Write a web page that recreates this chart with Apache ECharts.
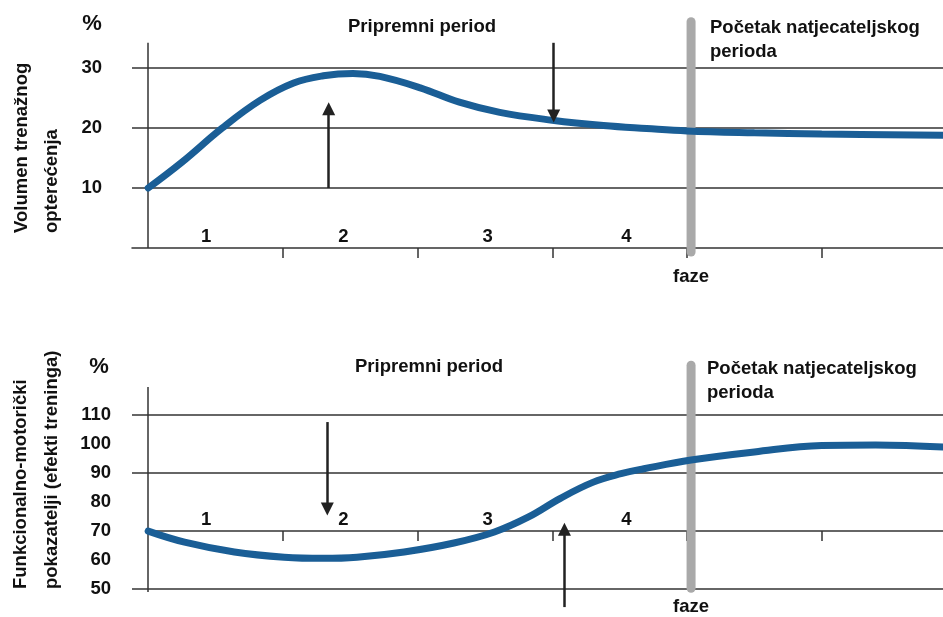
<!DOCTYPE html>
<html>
<head>
<meta charset="utf-8">
<title>Pripremni period</title>
<script src="https://cdn.jsdelivr.net/npm/echarts@6/dist/echarts.min.js"></script>
<style>
html,body{margin:0;padding:0;background:#fff;}
#main{width:943px;height:617px;}
</style>
</head>
<body>
<div id="main"></div>
<script>
// phase axis (one unit = one phase)
var xMin = -0.12, xMax = 5.9;
var xTicks = [1, 2, 3, 4, 5];
var phaseNames = ['1', '2', '3', '4'];
var phasePos = [0.43, 1.45, 2.52, 3.55];
var competitionX = 4.03;

// gornji graf - volumen trenažnog opterećenja
var volumeX = [0, 0.25, 0.55, 0.83, 1.08, 1.3, 1.52, 1.72, 2.02, 2.31, 2.61, 3.0, 3.38, 3.7, 4.0, 4.5, 5.0, 5.9];
var volumeY = [10, 14.3, 20, 24.6, 27.5, 28.7, 29.1, 28.6, 26.7, 24.3, 22.6, 21.3, 20.4, 19.9, 19.5, 19.2, 19.0, 18.8];
var volumeTicks = [10, 20, 30];
var volumeLines = [10, 20, 30];
var volumeMin = -1.5, volumeMax = 38;
var volumeAxisTop = 34.2;
var volumeBar = [-0.67, 37.7];
// [x, from, to]
var volumeArrows = [[1.34, 10, 23.2], [3.01, 34.2, 22.0]];

// donji graf - funkcionalno-motorički pokazatelji
var effectX = [0, 0.27, 0.64, 1.01, 1.3, 1.55, 1.9, 2.27, 2.57, 2.82, 3.06, 3.3, 3.51, 3.68, 4.03, 4.5, 5.0, 5.4, 5.9];
var effectY = [70, 66.2, 62.8, 61.0, 60.6, 61.0, 62.8, 65.9, 69.7, 74.8, 81.3, 86.8, 89.8, 91.5, 94.5, 97.3, 99.5, 99.7, 99];
var effectTicks = [50, 60, 70, 80, 90, 100, 110];
var effectLines = [50, 90, 110];
var effectBase = 70;
var effectMin = 43, effectMax = 129;
var effectAxisRange = [49, 119.7];
var effectBar = [50.3, 127.2];
var effectArrows = [[1.33, 107.6, 77.6], [3.09, 43.8, 70.6]];

var ink = '#111';
var fontFamily = '"Liberation Sans", Arial, sans-serif';
var boldFont = 'bold 18.5px ' + fontFamily;
var curveColor = '#1a5e96';
var barColor = '#a9a9a9';

var chart = echarts.init(document.getElementById('main'));

var topH = 237, botH = 249.4;

function pairs(xs, ys) {
  var out = [];
  for (var i = 0; i < xs.length; i++) out.push([xs[i], ys[i]]);
  return out;
}

function xAxisFor(idx, offset) {
  return {
    type: 'value', gridIndex: idx, min: xMin, max: xMax,
    offset: offset || 0,
    axisLine: { show: idx === 0, onZero: idx === 0, lineStyle: { color: '#333', width: 1.5 } },
    axisTick: { show: true, customValues: xTicks, length: 10, lineStyle: { color: '#333', width: 1.5 } },
    axisLabel: { show: false },
    splitLine: { show: false }
  };
}

function yAxisFor(idx, min, max, ticks, margin) {
  return {
    type: 'value', gridIndex: idx, min: min, max: max,
    axisLine: { show: false },
    axisTick: { show: false },
    splitLine: { show: false },
    axisLabel: {
      customValues: ticks, margin: margin,
      color: ink, fontSize: 18.5, fontWeight: 'bold', fontFamily: fontFamily
    }
  };
}

function frameSeries(idx, lines, extra) {
  var data = lines.map(function (v) { return { yAxis: v }; });
  return {
    type: 'line', xAxisIndex: idx, yAxisIndex: idx, data: [], silent: true, z: 1,
    markLine: {
      silent: true, symbol: 'none', z: 1, animation: false,
      label: { show: false },
      lineStyle: { color: '#333', width: 1.5, type: 'solid' },
      data: data.concat(extra)
    }
  };
}

function barSeries(idx, range) {
  return {
    type: 'line', xAxisIndex: idx, yAxisIndex: idx, silent: true, z: 2,
    symbol: 'none',
    lineStyle: { color: barColor, width: 9, cap: 'round' },
    data: [[competitionX, range[0]], [competitionX, range[1]]]
  };
}

function curveSeries(idx, xs, ys) {
  return {
    type: 'line', xAxisIndex: idx, yAxisIndex: idx, silent: true, z: 3,
    smooth: 0.4, symbol: 'none',
    lineStyle: { color: curveColor, width: 7, cap: 'round' },
    data: pairs(xs, ys)
  };
}

function arrowSeries(idx, arrows) {
  return {
    type: 'line', xAxisIndex: idx, yAxisIndex: idx, data: [], silent: true, z: 4,
    markLine: {
      silent: true, z: 4, animation: false,
      symbol: ['none', 'triangle'], symbolSize: 13,
      label: { show: false },
      itemStyle: { color: '#222' },
      lineStyle: { color: '#222', width: 2.5, type: 'solid' },
      data: arrows.map(function (a) {
        return [{ coord: [a[0], a[1]] }, { coord: [a[0], a[2]] }];
      })
    }
  };
}

function labelSeries(idx, baseY, fazeY, fazePos, fazeDist) {
  var data = phaseNames.map(function (n, i) {
    return { value: [phasePos[i], baseY], name: n, label: { position: 'top', distance: 2 } };
  });
  data.push({ value: [competitionX, fazeY], name: 'faze', label: { position: fazePos, distance: fazeDist } });
  return {
    type: 'scatter', xAxisIndex: idx, yAxisIndex: idx, silent: true, z: 5,
    symbolSize: 0, clip: false,
    label: {
      show: true, color: ink, fontSize: 18.5, fontWeight: 'bold',
      fontFamily: fontFamily, textBorderWidth: 0, opacity: 1,
      formatter: function (p) { return p.name; }
    },
    data: data
  };
}

function txt(x, y, text, opts) {
  var s = { text: text, font: boldFont, fill: ink, textAlign: 'left', textVerticalAlign: 'middle' };
  for (var k in opts) s[k] = opts[k];
  return { type: 'text', x: x, y: y, silent: true, style: s };
}

var bottomOffset = -(effectBase - effectMin) * botH / (effectMax - effectMin);
var percentFont = 'bold 22px ' + fontFamily;

chart.setOption({
  animation: false,
  backgroundColor: '#fff',
  grid: [
    { left: 132, right: 0, top: 20, height: topH },
    { left: 132, right: 0, top: 360, height: botH }
  ],
  xAxis: [xAxisFor(0), xAxisFor(1, bottomOffset)],
  yAxis: [
    yAxisFor(0, volumeMin, volumeMax, volumeTicks, 30),
    yAxisFor(1, effectMin, effectMax, effectTicks, 21)
  ],
  series: [
    frameSeries(0, volumeLines, [
      [{ coord: [0, 0] }, { coord: [0, volumeAxisTop] }]
    ]),
    barSeries(0, volumeBar),
    curveSeries(0, volumeX, volumeY),
    arrowSeries(0, volumeArrows),
    labelSeries(0, 0, volumeMin, 'bottom', 10),

    frameSeries(1, effectLines, [
      [{ coord: [0, effectAxisRange[0]] }, { coord: [0, effectAxisRange[1]] }],
      [{ coord: [0, effectBase] }, { coord: [xMax, effectBase] }]
    ]),
    barSeries(1, effectBar),
    curveSeries(1, effectX, effectY),
    arrowSeries(1, effectArrows),
    labelSeries(1, effectBase, 43.8, 'inside', 0)
  ],
  graphic: [
    txt(92, 24, '%', { textAlign: 'center', font: percentFont }),
    txt(422, 27, 'Pripremni period', { textAlign: 'center' }),
    txt(710, 16, 'Početak natjecateljskog\nperioda', { lineHeight: 24, textVerticalAlign: 'top' }),
    {
      type: 'text', x: 7, y: 233, rotation: Math.PI / 2, silent: true,
      style: { text: 'Volumen trenažnog\nopterećenja', font: boldFont, fill: ink, lineHeight: 30, textAlign: 'left', textVerticalAlign: 'top' }
    },

    txt(99, 367, '%', { textAlign: 'center', font: percentFont }),
    txt(429, 367, 'Pripremni period', { textAlign: 'center' }),
    txt(707, 357, 'Početak natjecateljskog\nperioda', { lineHeight: 24, textVerticalAlign: 'top' }),
    {
      type: 'text', x: 5, y: 589, rotation: Math.PI / 2, silent: true,
      style: { text: 'Funkcionalno-motorički\npokazatelji (efekti treninga)', font: boldFont, fill: ink, lineHeight: 31, textAlign: 'left', textVerticalAlign: 'top' }
    }
  ]
});
</script>
</body>
</html>
